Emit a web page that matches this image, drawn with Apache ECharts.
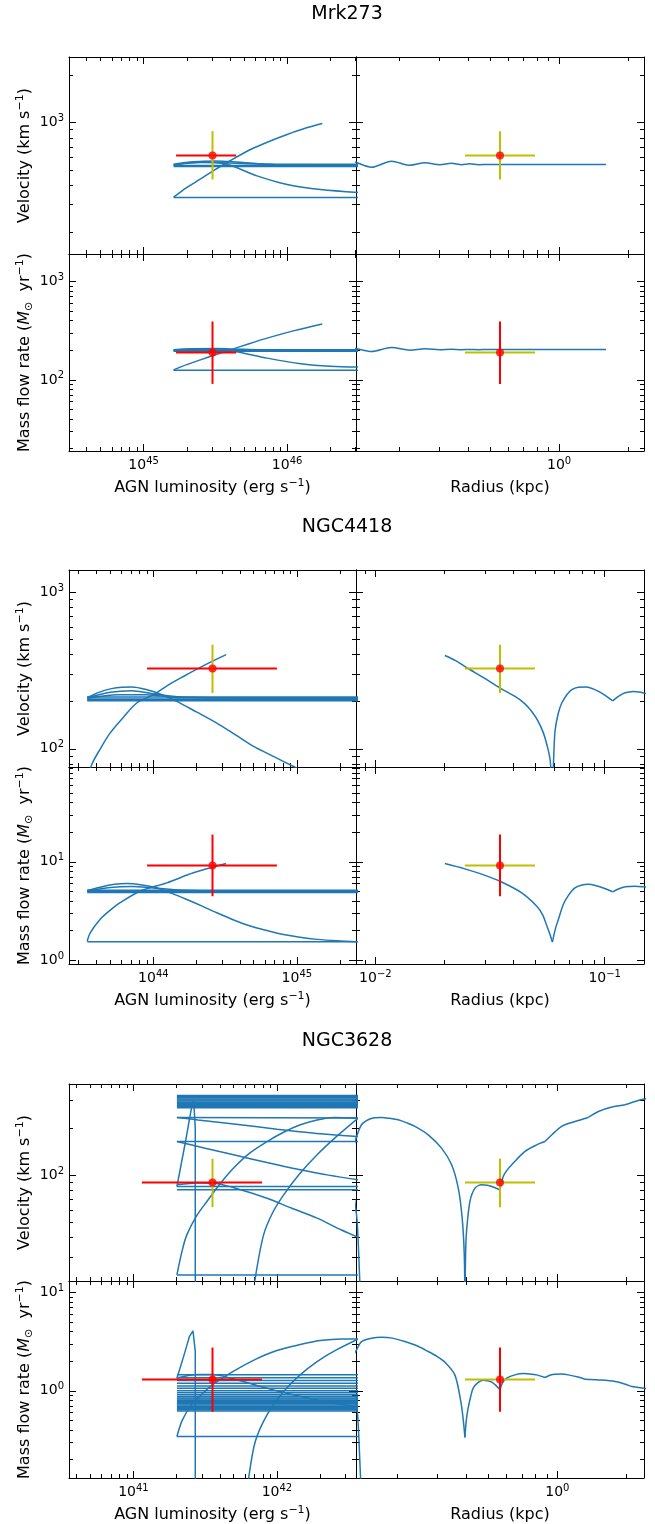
<!DOCTYPE html>
<html><head><meta charset="utf-8">
<script src="https://cdn.jsdelivr.net/npm/echarts@6/dist/echarts.min.js"></script>
<style>html,body{margin:0;padding:0;background:#fff}#c{width:655px;height:1524px}</style>
</head><body><div id="c"></div>
<script>
// ---------------- DATA (all values are log10 of the physical quantity) ----------------
const galaxies = ['Mrk273', 'NGC4418', 'NGC3628'];
// observations: AGN luminosity [erg/s], velocity [km/s], mass flow rate [Msun/yr], radius [kpc]
const logL_obs = [45.480, 44.412, 41.551];
const logL_lo  = [45.226, 43.956, 41.059];
const logL_hi  = [45.645, 44.861, 41.896];
const logV_obs = [2.790, 2.512, 1.953];
const logV_lo  = [2.637, 2.356, 1.796];
const logV_hi  = [2.945, 2.664, 2.104];
const logM_obs = [2.278, 0.963, 0.115];
const logM_lo  = [1.959, 0.651, -0.213];
const logM_hi  = [2.593, 1.277, 0.439];
const logR_obs = [-0.2576, -1.4565, -0.250];
const logR_lo  = [-0.410, -1.610, -0.403];
const logR_hi  = [-0.105, -1.304, -0.097];

// model tracks: Mrk273
const mrk273_vL_curves = [
  [[45.209,2.524],[45.30,2.585],[45.40,2.642],[45.481,2.690],[45.60,2.755],[45.745,2.828],[45.87,2.878],[46.00,2.924],[46.12,2.962],[46.245,2.994]],
  [[45.209,2.735],[45.35,2.750],[45.50,2.755],[45.65,2.748],[45.80,2.738],[46.00,2.735],[46.60,2.735]],
  [[45.209,2.731],[45.40,2.745],[45.60,2.742],[45.90,2.733],[46.60,2.731]],
  [[45.209,2.730],[45.40,2.748],[45.55,2.740],[45.65,2.712],[45.79,2.660],[46.00,2.605],[46.233,2.573],[46.60,2.548]]
];
const mrk273_vL_lines = [
  [[45.209,2.523],[46.60,2.523]],
  [[45.209,2.726],[46.60,2.726]],
  [[45.209,2.720],[46.60,2.720]]
];
const mrk273_mL_curves = [
  [[45.209,2.102],[45.30,2.155],[45.396,2.203],[45.50,2.255],[45.605,2.305],[45.73,2.365],[45.861,2.424],[46.05,2.50],[46.245,2.567]],
  [[45.209,2.305],[45.35,2.315],[45.50,2.318],[45.65,2.312],[45.80,2.306],[46.60,2.305]],
  [[45.209,2.300],[45.40,2.310],[45.60,2.309],[45.90,2.301],[46.60,2.300]],
  [[45.209,2.303],[45.40,2.315],[45.55,2.307],[45.65,2.286],[45.861,2.221],[46.094,2.163],[46.30,2.138],[46.60,2.127]]
];
const mrk273_mL_lines = [
  [[45.209,2.098],[46.60,2.098]],
  [[45.209,2.296],[46.60,2.296]],
  [[45.209,2.291],[46.60,2.291]]
];
const mrk273_vR_curves = [
  [[-0.92,2.765],[-0.886,2.747],[-0.818,2.715],[-0.731,2.754],[-0.651,2.728],[-0.585,2.743],[-0.520,2.731],[-0.469,2.741],[-0.425,2.731],[-0.389,2.737],[-0.352,2.731],[-0.30,2.733],[-0.20,2.732],[0.205,2.732]]
];
const mrk273_mR_curves = [
  [[-0.92,2.33],[-0.886,2.318],[-0.818,2.288],[-0.731,2.329],[-0.651,2.302],[-0.585,2.315],[-0.520,2.305],[-0.469,2.312],[-0.425,2.306],[-0.389,2.309],[-0.352,2.307],[-0.30,2.308],[0.205,2.308]]
];

// model tracks: NGC4418
const ngc4418_vL_curves = [
  [[43.539,2.327],[43.62,2.36],[43.70,2.382],[43.78,2.393],[43.85,2.394],[43.95,2.378],[44.06,2.345],[44.163,2.302],[44.30,2.235],[44.442,2.164],[44.57,2.09],[44.698,2.015],[44.84,1.95],[44.977,1.887],[45.10,1.83]],
  [[43.539,2.325],[43.70,2.36],[43.85,2.37],[44.00,2.35],[44.20,2.33],[44.50,2.325],[45.50,2.325]],
  [[43.539,2.322],[43.75,2.345],[43.95,2.345],[44.20,2.325],[45.50,2.322]],
  [[43.539,1.78],[43.570,1.898],[43.63,2.00],[43.698,2.10],[43.79,2.20],[43.884,2.292],[44.00,2.345],[44.10,2.405],[44.209,2.461],[44.35,2.53],[44.507,2.60]]
];
const ngc4418_vL_lines = [
  [[43.539,2.306],[45.50,2.306]],
  [[43.539,2.312],[45.50,2.312]],
  [[43.539,2.318],[45.50,2.318]],
  [[43.539,2.330],[45.50,2.330]]
];
const ngc4418_mL_curves = [
  [[43.539,0.709],[43.65,0.75],[43.73,0.772],[43.814,0.780],[43.92,0.765],[44.024,0.737],[44.13,0.68],[44.233,0.618],[44.34,0.55],[44.442,0.483],[44.56,0.41],[44.675,0.348],[44.80,0.30],[44.907,0.263],[45.02,0.235],[45.14,0.213],[45.28,0.198],[45.42,0.189]],
  [[43.539,0.705],[43.70,0.74],[43.85,0.75],[44.00,0.735],[44.20,0.713],[44.50,0.705],[45.50,0.705]],
  [[43.539,0.196],[43.56,0.28],[43.628,0.415],[43.70,0.51],[43.768,0.585],[43.907,0.702],[44.094,0.787],[44.279,0.889],[44.507,0.983]]
];
const ngc4418_mL_lines = [
  [[43.539,0.189],[45.50,0.189]],
  [[43.539,0.690],[45.50,0.690]],
  [[43.539,0.697],[45.50,0.697]],
  [[43.539,0.712],[45.50,0.712]]
];
const ngc4418_vR_curves = [
  [[-1.697,2.595],[-1.65,2.562],[-1.595,2.512],[-1.53,2.455],[-1.4565,2.387],[-1.391,2.334],[-1.35,2.29],[-1.318,2.238],[-1.29,2.175],[-1.267,2.100],[-1.252,2.026],[-1.238,1.930],[-1.228,1.70]],
  [[-1.228,1.70],[-1.222,1.96],[-1.216,2.12],[-1.202,2.228],[-1.187,2.292],[-1.165,2.345],[-1.143,2.377],[-1.115,2.392],[-1.085,2.394],[-1.055,2.385],[-1.027,2.366],[-0.995,2.338],[-0.965,2.306]],
  [[-0.965,2.306],[-0.945,2.33],[-0.924,2.349],[-0.90,2.36],[-0.874,2.366],[-0.85,2.362],[-0.828,2.355],[-0.80,2.345]]
];
const ngc4418_mR_curves = [
  [[-1.697,0.983],[-1.610,0.929],[-1.53,0.87],[-1.4565,0.803],[-1.362,0.686],[-1.296,0.550],[-1.27,0.46],[-1.252,0.348],[-1.238,0.26],[-1.228,0.185]],
  [[-1.228,0.185],[-1.215,0.32],[-1.202,0.415],[-1.18,0.57],[-1.158,0.660],[-1.13,0.735],[-1.099,0.765],[-1.07,0.772],[-1.041,0.760],[-1.0,0.73],[-0.965,0.696]],
  [[-0.965,0.696],[-0.94,0.725],[-0.910,0.747],[-0.87,0.752],[-0.828,0.747],[-0.80,0.742]]
];

// model tracks: NGC3628
const ngc3628_vL_band = [2.430,2.437,2.444,2.451,2.458,2.465,2.472,2.479,2.486,2.493,2.500,2.507];
const ngc3628_vL_lines = [
  [[41.303,2.368],[42.60,2.364]],
  [[41.303,2.214],[42.60,2.214]],
  [[41.303,1.927],[42.60,1.927]],
  [[41.303,1.906],[42.60,1.906]],
  [[41.303,1.364],[42.60,1.364]],
  [[41.303,1.927],[41.36,2.20],[41.408,2.446],[41.42,2.47],[41.431,2.30],[41.431,1.00]]
];
const ngc3628_vL_curves = [
  [[41.303,2.368],[41.45,2.352],[41.70,2.326],[42.00,2.293],[42.30,2.264],[42.60,2.244]],
  [[41.303,2.214],[41.50,2.172],[41.698,2.130],[41.93,2.080],[42.163,2.034],[42.36,2.0],[42.60,1.966]],
  [[41.303,1.938],[41.45,1.950],[41.558,1.949],[41.70,1.920],[41.931,1.853],[42.10,1.79],[42.28,1.726],[42.45,1.65],[42.60,1.59]],
  [[41.303,1.364],[41.34,1.52],[41.372,1.619],[41.44,1.74],[41.512,1.832],[41.60,1.94],[41.698,2.045],[41.81,2.14],[41.931,2.214],[42.05,2.275],[42.163,2.321],[42.28,2.352],[42.396,2.368],[42.60,2.362]],
  [[41.80,1.00],[41.849,1.343],[41.907,1.619],[41.97,1.76],[42.047,1.874],[42.16,2.01],[42.28,2.13],[42.42,2.25],[42.60,2.39]]
];
const ngc3628_mL_band = [0.162,0.132,0.104,0.076,0.050,0.025,0.002,-0.020,-0.040,-0.058,-0.072,-0.084,-0.096,-0.108,-0.120,-0.132,-0.144,-0.156,-0.168,-0.180,-0.192,-0.204];
const ngc3628_mL_lines = [
  [[41.303,-0.463],[42.60,-0.463]],
  [[41.303,0.128],[41.35,0.35],[41.39,0.55],[41.415,0.608],[41.431,0.40],[41.431,-1.00]]
];
const ngc3628_mL_curves = [
  [[41.303,-0.463],[41.34,-0.30],[41.40,-0.15],[41.466,-0.05],[41.55,0.06],[41.698,0.20],[41.85,0.32],[42.00,0.41],[42.163,0.47],[42.30,0.51],[42.45,0.527],[42.60,0.525]],
  [[41.78,-1.2],[41.803,-0.885],[41.849,-0.514],[41.931,-0.243],[42.047,-0.007],[42.16,0.16],[42.28,0.297],[42.42,0.42],[42.60,0.55]],
  [[41.303,0.13],[41.45,0.165],[41.55,0.165],[41.70,0.12],[42.00,0.00],[42.30,-0.10],[42.60,-0.17]]
];
const ngc3628_vR_curves = [
  [[-0.885,2.20],[-0.878,2.236],[-0.854,2.321],[-0.825,2.353],[-0.797,2.366],[-0.767,2.368],[-0.73,2.362],[-0.694,2.353],[-0.66,2.335],[-0.621,2.311],[-0.563,2.257],[-0.505,2.172],[-0.461,2.066],[-0.432,1.917],[-0.415,1.726],[-0.406,1.50],[-0.403,1.20]],
  [[-0.403,1.20],[-0.400,1.50],[-0.396,1.640],[-0.381,1.832],[-0.359,1.917],[-0.330,1.938],[-0.306,1.935],[-0.286,1.927],[-0.250,1.906]],
  [[-0.250,1.906],[-0.236,1.991],[-0.220,2.03],[-0.199,2.066],[-0.141,2.151],[-0.090,2.193],[-0.054,2.214]],
  [[-0.054,2.214],[-0.024,2.257],[0.019,2.311],[0.077,2.342],[0.135,2.368]],
  [[0.135,2.368],[0.179,2.406],[0.238,2.434],[0.296,2.449]],
  [[0.296,2.449],[0.339,2.470],[0.377,2.485],[0.40,2.49]],
  [[-0.885,1.85],[-0.873,1.704],[-0.862,1.343],[-0.858,1.20]]
];
const ngc3628_mR_curves = [
  [[-0.885,0.38],[-0.878,0.405],[-0.854,0.50],[-0.810,0.534],[-0.767,0.544],[-0.72,0.535],[-0.665,0.500],[-0.61,0.455],[-0.563,0.399],[-0.525,0.35],[-0.490,0.290],[-0.447,0.162],[-0.421,-0.108],[-0.41,-0.30],[-0.403,-0.473]],
  [[-0.403,-0.473],[-0.397,-0.30],[-0.389,-0.176],[-0.378,-0.06],[-0.367,0.027],[-0.345,0.085],[-0.323,0.108],[-0.30,0.10],[-0.286,0.088],[-0.268,0.055],[-0.250,0.010]],
  [[-0.250,0.010],[-0.238,0.085],[-0.221,0.128],[-0.185,0.162],[-0.148,0.175],[-0.12,0.172],[-0.090,0.162],[-0.054,0.135]],
  [[-0.054,0.135],[-0.030,0.160],[-0.010,0.169],[0.02,0.170],[0.048,0.162],[0.09,0.14],[0.121,0.118]],
  [[0.121,0.118],[0.179,0.111],[0.252,0.095],[0.30,0.065],[0.325,0.044],[0.377,0.027],[0.40,0.02]],
  [[-0.885,-0.10],[-0.873,-0.176],[-0.858,-0.885],[-0.855,-1.0]]
];

// subplot order per galaxy: [velocity-vs-L, velocity-vs-R, mass-vs-L, mass-vs-R]
const subplotTracks = [
  {curves: mrk273_vL_curves, lines: mrk273_vL_lines}, {curves: mrk273_vR_curves, lines: []},
  {curves: mrk273_mL_curves, lines: mrk273_mL_lines}, {curves: mrk273_mR_curves, lines: []},
  {curves: ngc4418_vL_curves, lines: ngc4418_vL_lines}, {curves: ngc4418_vR_curves, lines: []},
  {curves: ngc4418_mL_curves, lines: ngc4418_mL_lines}, {curves: ngc4418_mR_curves, lines: []},
  {curves: ngc3628_vL_curves, lines: ngc3628_vL_lines, band: ngc3628_vL_band, bandX: [41.303, 42.60]},
  {curves: ngc3628_vR_curves, lines: []},
  {curves: ngc3628_mL_curves, lines: ngc3628_mL_lines, band: ngc3628_mL_band, bandX: [41.303, 42.60]},
  {curves: ngc3628_mR_curves, lines: []}
];

// ---------------- LAYOUT / STYLE ----------------
const BLUE = '#1f77b4', RED = '#ff0000', YEL = '#bfbf00';
const FONT = 'DejaVu Sans';
const GRID_TOP = [57, 570, 1084];
const ROW_H = 197;
const COL_LEFT = [69, 356], COL_W = [287, 288];
const SPAN_L = 1, SPAN_M = 1, SPAN_V = 0.628, SPAN_R = 0.628;
const TITLE_Y = [14, 527, 1041];

function majors(min, max) { const a = []; for (let n = Math.ceil(min); n <= Math.floor(max); n++) a.push(n); return a; }
function minors(min, max) {
  const a = [];
  for (let n = Math.floor(min) - 1; n <= Math.ceil(max); n++)
    for (let k = 2; k <= 9; k++) { const v = n + Math.log10(k); if (v > min && v < max) a.push(v); }
  return a;
}
function supTxt(n) { return n < 0 ? '\u2212' + (-n) : '' + n; }
const tickRich = {
  b: {fontSize: 14, fontFamily: FONT, color: '#000', lineHeight: 18},
  s: {fontSize: 10, fontFamily: FONT, color: '#000', lineHeight: 12, verticalAlign: 'top'}
};
const nameRich = {
  n: {fontSize: 16, fontFamily: FONT, color: '#000', lineHeight: 20},
  i: {fontSize: 16, fontFamily: FONT, color: '#000', lineHeight: 20, fontStyle: 'italic'},
  s: {fontSize: 11, fontFamily: FONT, color: '#000', lineHeight: 12, verticalAlign: 'top'},
  sub: {fontSize: 11, fontFamily: FONT, color: '#000', lineHeight: 12, verticalAlign: 'bottom'}
};
const NAME_L = '{n|AGN luminosity (erg s}{s|\u22121}{n|)}';
const NAME_R = '{n|Radius (kpc)}';
const NAME_V = '{n|Velocity (km s}{s|\u22121}{n|)}';
const NAME_M = '{n|Mass flow rate (}{i|M}{sub|\u2299}{n|  yr}{s|\u22121}{n|)}';

const grids = [], xAxes = [], yAxes = [], series = [];

function makeAxis(gridIndex, position, range, major, showLabel, name, nameGap) {
  const ticks = major ? majors(range[0], range[1]) : minors(range[0], range[1]);
  const ax = {
    type: 'value', gridIndex, position, min: range[0], max: range[1],
    axisLine: {show: major, onZero: false, lineStyle: {color: '#000', width: 1}},
    axisTick: {show: true, inside: true, length: major ? 7 : 4, customValues: ticks, lineStyle: {color: '#000', width: 1}},
    axisLabel: {show: showLabel, customValues: majors(range[0], range[1]), margin: 5,
      formatter: v => '{b|10}{s|' + supTxt(Math.round(v)) + '}', rich: tickRich},
    splitLine: {show: false}, silent: true
  };
  if (name) {
    ax.name = name; ax.nameLocation = 'middle'; ax.nameGap = nameGap;
    ax.nameTextStyle = {fontSize: 16, fontFamily: FONT, color: '#000', rich: nameRich};
  }
  return ax;
}

function subplotInfo(s) {
  const gi = Math.floor(s / 4), row = Math.floor((s % 4) / 2), col = s % 2;
  const xr = col === 0 ? [logL_obs[gi] - SPAN_L, logL_obs[gi] + SPAN_L] : [logR_obs[gi] - SPAN_R, logR_obs[gi] + SPAN_R];
  const yr = row === 0 ? [logV_obs[gi] - SPAN_V, logV_obs[gi] + SPAN_V] : [logM_obs[gi] - SPAN_M, logM_obs[gi] + SPAN_M];
  return {gi, row, col, xr, yr, rect: {left: COL_LEFT[col], top: GRID_TOP[gi] + row * ROW_H, width: COL_W[col], height: ROW_H}};
}

// pass 0: major axes + data grids, pass 1: minor-tick grids (same rectangles)
for (let pass = 0; pass < 2; pass++) {
  for (let s = 0; s < 12; s++) {
    const p = subplotInfo(s);
    const g = grids.length;
    grids.push(Object.assign({containLabel: false}, p.rect));
    const major = pass === 0;
    const xName = major && p.row === 1 ? (p.col === 0 ? NAME_L : NAME_R) : null;
    const yName = major && p.col === 0 ? (p.row === 0 ? NAME_V : NAME_M) : null;
    xAxes.push(makeAxis(g, 'bottom', p.xr, major, major && p.row === 1, xName, 27));
    xAxes.push(makeAxis(g, 'top', p.xr, major, false, null));
    yAxes.push(makeAxis(g, 'left', p.yr, major, major && p.col === 0, yName, 34));
    yAxes.push(makeAxis(g, 'right', p.yr, major, false, null));
  }
}

function addLine(s, pts, smooth, color, width, z) {
  series.push({type: 'line', xAxisIndex: 2 * s, yAxisIndex: 2 * s, data: pts, symbol: 'none', showSymbol: false,
    smooth: smooth ? 0.3 : false, clip: true, silent: true,
    lineStyle: {color, width}, z});
}

for (let s = 0; s < 12; s++) {
  const p = subplotInfo(s), t = subplotTracks[s];
  if (t.band) t.band.forEach(v => addLine(s, [[t.bandX[0], v], [t.bandX[1], v]], false, BLUE, 1.5, 2));
  t.lines.forEach(l => addLine(s, l, false, BLUE, 1.5, 2));
  t.curves.forEach(c => addLine(s, c, true, BLUE, 1.5, 2));
  const gi = p.gi;
  const xo = p.col === 0 ? logL_obs[gi] : logR_obs[gi];
  const xlo = p.col === 0 ? logL_lo[gi] : logR_lo[gi];
  const xhi = p.col === 0 ? logL_hi[gi] : logR_hi[gi];
  const yo = p.row === 0 ? logV_obs[gi] : logM_obs[gi];
  const ylo = p.row === 0 ? logV_lo[gi] : logM_lo[gi];
  const yhi = p.row === 0 ? logV_hi[gi] : logM_hi[gi];
  addLine(s, [[xlo, yo], [xhi, yo]], false, p.col === 0 ? RED : YEL, 2, 3);
  addLine(s, [[xo, ylo], [xo, yhi]], false, p.row === 0 ? YEL : RED, 2, 3);
  series.push({type: 'scatter', xAxisIndex: 2 * s, yAxisIndex: 2 * s, data: [[xo, yo]], symbol: 'circle', symbolSize: 8,
    itemStyle: {color: RED}, z: 4, silent: true});
}

const graphic = galaxies.map((name, i) => ({
  type: 'text', x: 347, y: TITLE_Y[i],
  style: {text: name, font: '19px "' + FONT + '"', fill: '#000', textAlign: 'center', textVerticalAlign: 'middle'}
}));

const chart = echarts.init(document.getElementById('c'), null, {renderer: 'canvas'});
chart.setOption({animation: false, backgroundColor: '#fff', grid: grids, xAxis: xAxes, yAxis: yAxes, series, graphic});
</script></body></html>
